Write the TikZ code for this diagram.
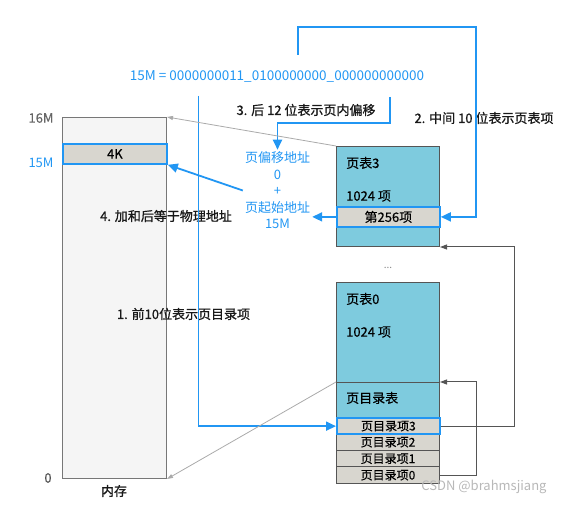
\documentclass[tikz,border=0pt]{standalone}
\usepackage{fontspec}
\setmainfont{Noto Sans CJK SC}
\newfontfamily\labfont{Noto Sans CJK SC}[FakeBold=0.9]
\newfontfamily\midfont{Noto Sans CJK SC}[FakeBold=0.35]
\usetikzlibrary{arrows.meta,calc}
\definecolor{cblue}{HTML}{2196F3}
\definecolor{ptfill}{HTML}{7ECBDE}
\definecolor{entfill}{HTML}{D8D6CF}
\definecolor{memfill}{HTML}{F5F5F5}
\definecolor{edgec}{HTML}{555555}
\definecolor{thin}{HTML}{AAAAAA}
\definecolor{wm}{HTML}{B8B8B8}
\begin{document}
\begin{tikzpicture}[x=1pt,y=-1pt,
  box/.style={draw=edgec,line width=1pt,inner sep=0pt,anchor=north west,minimum width=103pt},
  membox/.style={draw=edgec!80,fill=memfill,line width=1pt,inner sep=0pt,anchor=north west,minimum width=104pt},
  ptbox/.style={box,fill=ptfill},
  entbox/.style={box,fill=entfill,font=\midfont\fontsize{12}{14}\selectfont},
  hilite/.style={draw=cblue,line width=1.8pt},
  txt/.style={font=\midfont\fontsize{13}{15}\selectfont,inner sep=0pt},
  steplabel/.style={txt,font=\labfont\fontsize{13}{15}\selectfont,text=black!90},
  bluetxt/.style={txt,font=\fontsize{13}{15}\selectfont,text=cblue},
  bline/.style={draw=cblue,line width=1.8pt},
  barrow/.style={bline,-{Triangle[length=10pt,width=9pt]}},
  garrow/.style={draw=thin,line width=0.8pt,-{Triangle[length=6pt,width=4pt]}},
  darrow/.style={draw=edgec,line width=1pt,-{Triangle[length=7pt,width=5pt]}}
]
\useasboundingbox (0,0) rectangle (574,505);

% memory
\node[membox,minimum height=361pt] (mem) at (62,117) {};
\node[membox,fill=entfill,hilite,minimum height=20pt,font=\midfont\fontsize{13}{14}\selectfont] (k4) at (62,143) {4K};
\node[txt,text=edgec!90] (l16) at (41,118) {16M};
\node[bluetxt] (l15) at (41,163) {15M};
\node[txt,text=edgec] (l0) at (48,478) {0};
\node[steplabel] (lmem) at (114,491) {内存};

% page table 3
\node[ptbox,minimum height=100pt] (pt3) at (336,146) {};
\node[txt,anchor=west] (pt3a) at (346,163) {页表3};
\node[txt,anchor=west] (pt3b) at (346,196) {1024 项};
\node[entbox,hilite,minimum height=20pt,font=\midfont\fontsize{13}{14}\selectfont] (r256) at (336,206) {第256项};

\node[txt,text=edgec!70,font=\fontsize{10}{12}\selectfont] (dots) at (388,268) {...};

% page table 0
\node[ptbox,minimum height=100pt] (pt0) at (336,282) {};
\node[txt,anchor=west] (pt0a) at (346,299) {页表0};
\node[txt,anchor=west] (pt0b) at (346,332) {1024 项};
\node[ptbox,minimum height=35pt] (pdir) at (336,382) {};
\node[txt,anchor=west] (pdirt) at (346,398) {页目录表};
\node[entbox,hilite,minimum height=16.5pt] (e3) at (336,417) {页目录项3};
\node[entbox,minimum height=16.5pt] (e2) at (336,433.5) {页目录项2};
\node[entbox,minimum height=16.5pt] (e1) at (336,450) {页目录项1};
\node[entbox,minimum height=16.5pt] (e0) at (336,466.5) {页目录项0};
\node[entbox,hilite,minimum height=16.5pt,fill=none] (e3b) at (336,417) {};

% formula and labels
\node[bluetxt,font=\fontsize{13.5}{15}\selectfont] (formula) at (277,77) {15M = 0000000011\_0100000000\_000000000000};
\node[steplabel] (s3) at (306,110) {3. 后 12 位表示页内偏移};
\node[steplabel] (s2) at (484,118) {2. 中间 10 位表示页表项};
\node[steplabel] (s4) at (166,216) {4. 加和后等于物理地址};
\node[steplabel] (s1) at (183.5,314) {1. 前10位表示页目录项};
\node[bluetxt,align=center,font=\fontsize{13}{16.5}\selectfont,inner sep=2pt] (calc) at (277.5,190.5) {页偏移地址\\0\\+\\页起始地址\\15M};
\node[txt,font=\fontsize{13}{15}\selectfont,text=wm] (wmark) at (484,487) {CSDN @brahmsjiang};

% connectors
\coordinate (fmid) at (298,55);
\coordinate (ftop) at (476,27);
\coordinate (fleft) at (198.5,96);
\coordinate (fright) at (390,97);
\coordinate (fbend) at (277.5,123);
\draw[barrow] (fmid) |- (ftop) |- (r256.east);
\draw[barrow] (fleft) |- (e3.west);
\draw[barrow] (fright) |- (fbend) -- (calc.north);
\draw[barrow] (r256.west) -- (r256.west -| calc.east);
\draw[barrow] (calc.west) -- (k4.south east);

\draw[garrow] (pt3.north west) -- (mem.north east);
\draw[garrow] (pdir.north west) -- (mem.south east);

\draw[darrow] (e3.east) -- ++(74,0) |- (pt3.south east);
\draw[darrow] (e0.east) -- ++(36,0) |- (pdir.north east);
\end{tikzpicture}
\end{document}
